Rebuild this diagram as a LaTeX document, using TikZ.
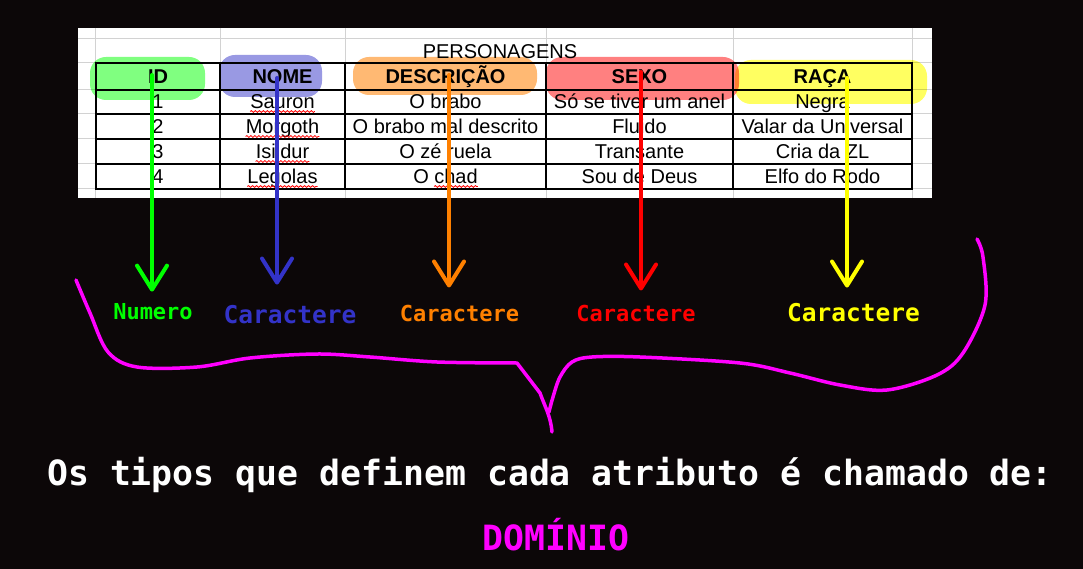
\documentclass[tikz,border=0pt]{standalone}
\usepackage{fontspec}
\setmainfont{Liberation Sans}
\newfontfamily\codefont{DejaVu Sans Mono}
\usetikzlibrary{arrows.meta,positioning,calc,decorations.pathmorphing}
\definecolor{BgDark}{HTML}{0C0708}
\definecolor{GridGray}{HTML}{D2D2D2}
\definecolor{MarkGreen}{HTML}{00FF00}
\definecolor{MarkBlue}{HTML}{3333C8}
\definecolor{MarkOrange}{HTML}{FF8000}
\definecolor{MarkRed}{HTML}{FF0000}
\definecolor{MarkYellow}{HTML}{FFFF00}
\definecolor{BraceMagenta}{HTML}{FF00FF}
\begin{document}
\begin{tikzpicture}[x=1pt, y=-1pt,
  cell/.style={font=\fontsize{20}{20}\selectfont, inner sep=0pt, anchor=base},
  head/.style={cell, font=\fontsize{20}{20}\selectfont\bfseries},
  blob/.style={rounded corners=16pt},
  arrow/.style={line width=4pt, line cap=round,
                -{Straight Barb[length=24pt, width=30pt, round]}},
  type/.style={inner sep=0pt, font=\codefont\bfseries\fontsize{22}{22}\selectfont},
  typo/.style={draw=red, line width=0.8pt, decorate,
               decoration={snake, amplitude=0.9pt, segment length=4pt}}
]
  % background and sheet
  \fill[BgDark] (0,0) rectangle (1083,569);
  \fill[white] (78,28) rectangle (932,198);
  \foreach \y in {39,63,90,114,139,164,189}
    \draw[GridGray, line width=1pt] (78,\y) -- (932,\y);
  \foreach \x in {95,220,345,546,733,912}
    \draw[GridGray, line width=1pt] (\x,28) -- (\x,198);

  % table
  \node[cell] (title) at (500,59) {PERSONAGENS};
  \draw[line width=1.4pt] (96,63) rectangle (912,189);
  \foreach \y in {90,114,139,164}
    \draw[line width=1.4pt] (96,\y) -- (912,\y);
  \foreach \x in {220,345,546,733}
    \draw[line width=1.4pt] (\x,63) -- (\x,189);

  \node[head] (hID)   at (158,84)   {ID};
  \node[head] (hNome) at (282.5,84) {NOME};
  \node[head] (hDesc) at (445.5,84) {DESCRIÇÃO};
  \node[head] (hSexo) at (639.5,84) {SEXO};
  \node[head] (hRaca) at (822.5,84) {RAÇA};

  \foreach \r/\a/\b/\c/\d/\e in {
      1/1/Sauron/O brabo/Só se tiver um anel/Negra,
      2/2/Morgoth/O brabo mal descrito/Fluido/Valar da Universal,
      3/3/Isildur/O zé ruela/Transante/Cria da ZL,
      4/4/Legolas/O chad/Sou de Deus/Elfo do Rodo} {
    \pgfmathsetmacro\yb{84+25*\r}
    \node[cell] (id-\r)   at (158,\yb)   {\a};
    \node[cell] (nome-\r) at (282.5,\yb) {\b};
    \node[cell] (desc-\r) at (445.5,\yb) {\c};
    \node[cell] (sexo-\r) at (639.5,\yb) {\d};
    \node[cell] (raca-\r) at (822.5,\yb) {\e};
  }

  % spelling marks
  \foreach \r in {1,2,3,4}
    \draw[typo] ([yshift=-2.5pt]nome-\r.base west) -- ([yshift=-2.5pt]nome-\r.base east);
  \draw[typo] ([yshift=-2.5pt, xshift=21pt]desc-4.base west) -- ([yshift=-2.5pt]desc-4.base east);

  % highlighter
  \begin{scope}[blend mode=multiply]
    \fill[blob, MarkGreen!50!white]  (90,57)  rectangle (205,100);
    \fill[blob, MarkBlue!50!white]   (219,55) rectangle (322,97);
    \fill[blob, MarkOrange!55!white] (353,57) rectangle (537,95);
    \fill[blob, MarkRed!50!white]    (546,57) rectangle (739,100);
    \fill[blob, MarkYellow!62!white] (735,60) rectangle (927,104);
  \end{scope}

  % type labels
  \node[type, MarkGreen]  (tID)   at (153,312) {Numero};
  \node[type, MarkBlue, font=\codefont\bfseries\fontsize{24.5}{24.5}\selectfont]
                          (tNome) at (290,315) {Caractere};
  \node[type, MarkOrange] (tDesc) at (459.5,313) {Caractere};
  \node[type, MarkRed]    (tSexo) at (636,313) {Caractere};
  \node[type, MarkYellow, font=\codefont\bfseries\fontsize{24.5}{24.5}\selectfont]
                          (tRaca) at (853.5,313) {Caractere};

  % arrows
  \coordinate (aID)   at (152,75);
  \coordinate (aNome) at (277,78);
  \coordinate (aDesc) at (449,75);
  \coordinate (aSexo) at (641,72);
  \coordinate (aRaca) at (847,78);
  \draw[arrow, MarkGreen,  shorten >=12pt] (aID)   -- (aID |- tID.north);
  \draw[arrow, MarkBlue,   shorten >=21pt] (aNome) -- (aNome |- tNome.north);
  \draw[arrow, MarkOrange, shorten >=17pt] (aDesc) -- (aDesc |- tDesc.north);
  \draw[arrow, MarkRed,    shorten >=14pt] (aSexo) -- (aSexo |- tSexo.north);
  \draw[arrow, MarkYellow, shorten >=16pt] (aRaca) -- (aRaca |- tRaca.north);

  % brace
  \draw[BraceMagenta, line width=3.5pt, line cap=round, line join=round]
    plot[smooth, tension=0.55] coordinates {(76,280) (90,313) (108,352) (137,367)
      (197,367) (250,358) (317,354) (370,357) (437,362) (517,363)}
    -- (540,393) to[out=-70, in=95] (552,432);
  \draw[BraceMagenta, line width=3.5pt, line cap=round, line join=round]
    plot[smooth, tension=0.55] coordinates {(549,412) (553,397) (560,377) (572,362)
      (592,357) (640,357) (740,363) (790,373) (840,385) (887,390) (937,375)
      (963,353) (985,305) (983,257) (977,239)};

  % caption
  \node[anchor=base, inner sep=0pt, white,
        font=\codefont\bfseries\fontsize{34.8}{36}\selectfont]
    (caption) at (550,485) {Os tipos que definem cada atributo é chamado de:};
  \node[anchor=base, inner sep=0pt, BraceMagenta,
        font=\codefont\bfseries\fontsize{34.8}{36}\selectfont]
    (dominio) at (556,550) {DOMÍNIO};
\end{tikzpicture}
\end{document}
